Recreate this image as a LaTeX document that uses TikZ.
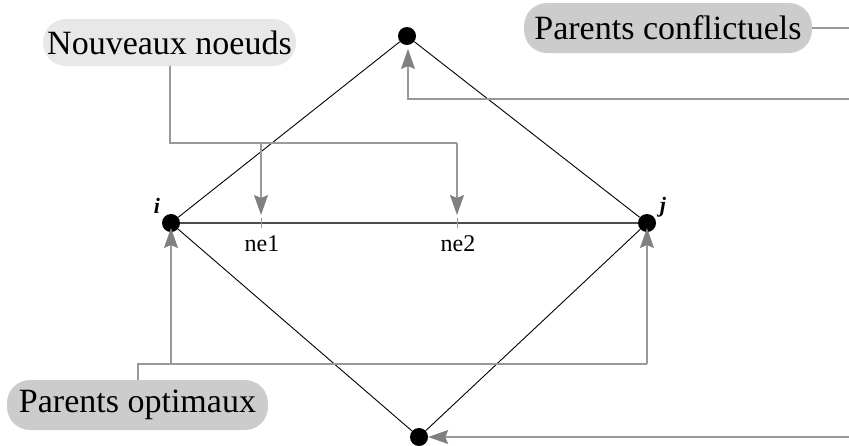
\documentclass[tikz,border=0pt]{standalone}
\usepackage{fontspec}
\setmainfont{Liberation Serif}
\newfontfamily\tms{Liberation Serif}
\usetikzlibrary{arrows.meta}
\begin{document}
\begin{tikzpicture}[x=1pt,y=-1pt,
  dot/.style={circle,fill=black,inner sep=0pt,minimum size=18pt},
  lbl/.style={rounded corners=23pt,inner sep=0pt,font=\tms\fontsize{34}{37}\selectfont},
  conn/.style={draw=black!40,line width=1.2pt},
  arr/.style={conn,-{Stealth[length=20pt,width=14pt,inset=3pt,color=black!50]}},
  edgeline/.style={draw=black,line width=0.9pt},
  tick/.style={draw=black!40,line width=0.8pt},
  small/.style={font=\tms\fontsize{24}{26}\selectfont},
  vlabel/.style={font=\tms\bfseries\itshape\fontsize{22}{24}\selectfont}]
\useasboundingbox (0,0) rectangle (849,445);

% graph nodes
\node[dot] (T) at (407,36) {};
\node[dot] (I) at (171,223) {};
\node[dot] (J) at (647,223) {};
\node[dot] (B) at (419,437) {};
\coordinate (n1) at (261,223);
\coordinate (n2) at (457,223);

% edges
\draw[edgeline] (T) -- (I);
\draw[edgeline] (T) -- (J);
\draw[edgeline] (I) -- (B);
\draw[edgeline] (J) -- (B);
\draw[draw=black!70,line width=1.1pt] (I) -- (J);
\draw[tick] ([yshift=5pt]n1) -- ([yshift=-5pt]n1);
\draw[tick] ([yshift=5pt]n2) -- ([yshift=-5pt]n2);

% labels
\node[vlabel] (li) at (157,206) {i};
\node[vlabel] (lj) at (663,207) {j};
\node[small] (l1) at (262,244) {ne1};
\node[small] (l2) at (458,244) {ne2};

% callout boxes
\node[lbl,fill=black!9,minimum width=253pt,minimum height=47pt] (NN) at (169.5,42.5) {Nouveaux noeuds};
\node[lbl,fill=black!20,minimum width=288pt,minimum height=50pt] (PC) at (668,28) {Parents conflictuels};
\node[lbl,fill=black!20,minimum width=261pt,minimum height=50pt] (PO) at (137.5,405) {Parents optimaux};

% connectors: nouveaux noeuds
\coordinate (h1) at (261,143);
\coordinate (h2) at (457,143);
\coordinate (nn) at (170,66);
\draw[conn] (nn) |- (h2);
\draw[arr] (h1) -- ([yshift=8pt]n1);
\draw[arr] (h2) -- ([yshift=8pt]n2);

% connectors: parents conflictuels
\coordinate (e1) at (849,28);
\coordinate (e2) at (849,99);
\coordinate (e3) at (849,437);
\coordinate (tT) at (408,49);
\draw[conn] (PC.east) -- (e1);
\draw[arr] (e2) -| (tT);
\draw[arr] (e3) -- (B.east);

% connectors: parents optimaux
\coordinate (po) at (138,380);
\coordinate (o1) at (171,364);
\coordinate (o2) at (647,364);
\coordinate (tI) at (171,228);
\coordinate (tJ) at (647,228);
\draw[conn] (po) |- (o2);
\draw[arr] (o1) -- (tI);
\draw[arr] (o2) -- (tJ);
\end{tikzpicture}
\end{document}
